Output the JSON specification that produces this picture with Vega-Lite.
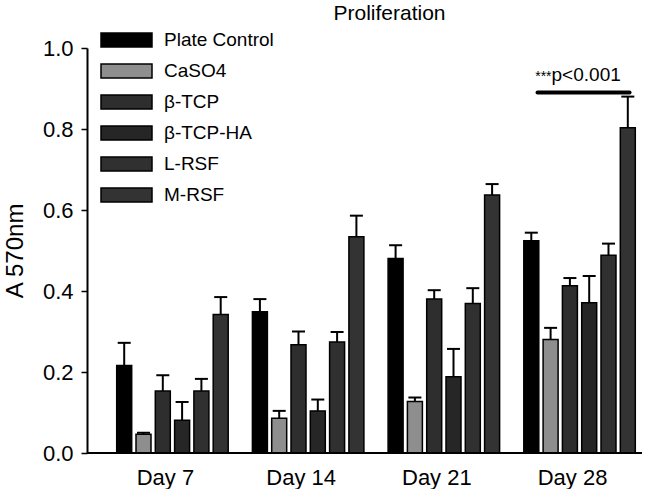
{
  "$schema": "https://vega.github.io/schema/vega-lite/v6.json",
  "width": 555,
  "height": 405,
  "autosize": {"type": "none"},
  "padding": {"left": 87, "top": 48, "right": 22, "bottom": 36},
  "background": "white",
  "title": {"text": "Proliferation", "fontSize": 21, "fontWeight": "normal", "font": "Liberation Sans", "color": "black", "offset": 7, "dx": 25},
  "config": {"font": "Liberation Sans", "view": {"stroke": null}},
  "data": {"values": [
    {"day": "Day 7", "group": "Plate Control", "mean": 0.216, "upper": 0.272},
    {"day": "Day 7", "group": "CaSO4", "mean": 0.046, "upper": 0.050},
    {"day": "Day 7", "group": "β-TCP", "mean": 0.153, "upper": 0.192},
    {"day": "Day 7", "group": "β-TCP-HA", "mean": 0.081, "upper": 0.126},
    {"day": "Day 7", "group": "L-RSF", "mean": 0.153, "upper": 0.183},
    {"day": "Day 7", "group": "M-RSF", "mean": 0.342, "upper": 0.385},
    {"day": "Day 14", "group": "Plate Control", "mean": 0.349, "upper": 0.380},
    {"day": "Day 14", "group": "CaSO4", "mean": 0.086, "upper": 0.104},
    {"day": "Day 14", "group": "β-TCP", "mean": 0.267, "upper": 0.300},
    {"day": "Day 14", "group": "β-TCP-HA", "mean": 0.104, "upper": 0.132},
    {"day": "Day 14", "group": "L-RSF", "mean": 0.274, "upper": 0.299},
    {"day": "Day 14", "group": "M-RSF", "mean": 0.534, "upper": 0.586},
    {"day": "Day 21", "group": "Plate Control", "mean": 0.480, "upper": 0.513},
    {"day": "Day 21", "group": "CaSO4", "mean": 0.127, "upper": 0.137},
    {"day": "Day 21", "group": "β-TCP", "mean": 0.380, "upper": 0.402},
    {"day": "Day 21", "group": "β-TCP-HA", "mean": 0.188, "upper": 0.257},
    {"day": "Day 21", "group": "L-RSF", "mean": 0.369, "upper": 0.407},
    {"day": "Day 21", "group": "M-RSF", "mean": 0.637, "upper": 0.664},
    {"day": "Day 28", "group": "Plate Control", "mean": 0.524, "upper": 0.544},
    {"day": "Day 28", "group": "CaSO4", "mean": 0.280, "upper": 0.309},
    {"day": "Day 28", "group": "β-TCP", "mean": 0.413, "upper": 0.432},
    {"day": "Day 28", "group": "β-TCP-HA", "mean": 0.371, "upper": 0.437},
    {"day": "Day 28", "group": "L-RSF", "mean": 0.488, "upper": 0.517},
    {"day": "Day 28", "group": "M-RSF", "mean": 0.803, "upper": 0.880}
  ]},
  "layer": [
    {
      "mark": {"type": "rule", "strokeWidth": 2, "color": "black"},
      "encoding": {
        "x": {"field": "day", "type": "nominal", "sort": ["Day 7", "Day 14", "Day 21", "Day 28"], "scale": {"domain": ["Day 7", "Day 14", "Day 21", "Day 28"], "range": [17.6, 560.4], "paddingInner": 0, "paddingOuter": 0},
              "axis": {"title": null, "domain": false, "ticks": false, "labelAngle": 0, "labelAlign": "center", "labelFontSize": 22, "labelPadding": 14, "labelOffset": -7, "labelColor": "black"}},
        "xOffset": {"field": "group", "type": "nominal", "sort": ["Plate Control", "CaSO4", "β-TCP", "β-TCP-HA", "L-RSF", "M-RSF"], "scale": {"domain": ["Plate Control", "CaSO4", "β-TCP", "β-TCP-HA", "L-RSF", "M-RSF"], "paddingInner": 0.223, "paddingOuter": 0.627}},
        "y": {"field": "mean", "type": "quantitative"},
        "y2": {"field": "upper"}
      }
    },
    {
      "mark": {"type": "tick", "size": 13, "thickness": 2, "color": "black", "opacity": 1},
      "encoding": {
        "x": {"field": "day", "type": "nominal", "sort": ["Day 7", "Day 14", "Day 21", "Day 28"]},
        "xOffset": {"field": "group", "type": "nominal", "sort": ["Plate Control", "CaSO4", "β-TCP", "β-TCP-HA", "L-RSF", "M-RSF"]},
        "y": {"field": "upper", "type": "quantitative"}
      }
    },
    {
      "mark": {"type": "bar", "stroke": "black", "strokeWidth": 1.5, "opacity": 1},
      "encoding": {
        "x": {"field": "day", "type": "nominal", "sort": ["Day 7", "Day 14", "Day 21", "Day 28"]},
        "xOffset": {"field": "group", "type": "nominal", "sort": ["Plate Control", "CaSO4", "β-TCP", "β-TCP-HA", "L-RSF", "M-RSF"]},
        "y": {"field": "mean", "type": "quantitative", "scale": {"domain": [0, 1], "nice": false},
              "axis": {"title": "A 570nm", "titleFontSize": 24, "titleFontWeight": "normal", "titleColor": "black", "titlePadding": 15,
                       "values": [0, 0.2, 0.4, 0.6, 0.8, 1.0], "format": ".1f", "grid": false,
                       "tickSize": 6, "tickWidth": 1.5, "tickColor": "black", "domainWidth": 2, "domainColor": "black",
                       "labelFontSize": 22, "labelPadding": 8, "labelColor": "black"}},
        "fill": {"field": "group", "type": "nominal", "sort": ["Plate Control", "CaSO4", "β-TCP", "β-TCP-HA", "L-RSF", "M-RSF"],
                 "scale": {"domain": ["Plate Control", "CaSO4", "β-TCP", "β-TCP-HA", "L-RSF", "M-RSF"], "range": ["#000000", "#8e8e8e", "#2e2e2e", "#262626", "#303030", "#333333"]},
                 "legend": {"title": null, "orient": "none", "legendX": 30, "legendY": -17.5,
                            "symbolType": "M-3,-0.824H3V0.824H-3Z", "symbolSize": 289, "symbolStrokeColor": "black", "symbolStrokeWidth": 1.5, "symbolOpacity": 1,
                            "labelFontSize": 19, "labelOffset": 28, "labelColor": "black", "labelLimit": 300, "rowPadding": 10}}
      }
    },
    {
      "data": {"values": [{"base": 0}]},
      "mark": {"type": "rule", "strokeWidth": 2, "color": "black"},
      "encoding": {"y": {"field": "base", "type": "quantitative"}}
    },
    {
      "data": {"values": [{"day": "Day 28", "y": 0.89}]},
      "mark": {"type": "rule", "strokeWidth": 4, "strokeCap": "round", "color": "black", "xOffset": -42, "x2Offset": 50},
      "encoding": {
        "x": {"field": "day", "type": "nominal"},
        "x2": {"field": "day"},
        "y": {"field": "y", "type": "quantitative"}
      }
    },
    {
      "data": {"values": [{"day": "Day 28", "y": 0.9175, "label": "p<0.001"}]},
      "mark": {"type": "text", "align": "left", "baseline": "alphabetic", "fontSize": 19, "color": "black", "xOffset": -28},
      "encoding": {
        "x": {"field": "day", "type": "nominal"},
        "y": {"field": "y", "type": "quantitative"},
        "text": {"field": "label"}
      }
    },
    {
      "data": {"values": [{"day": "Day 28", "y": 0.9175, "label": "***"}]},
      "mark": {"type": "text", "align": "right", "baseline": "alphabetic", "fontSize": 14, "color": "black", "xOffset": -28},
      "encoding": {
        "x": {"field": "day", "type": "nominal"},
        "y": {"field": "y", "type": "quantitative"},
        "text": {"field": "label"}
      }
    }
  ]
}
